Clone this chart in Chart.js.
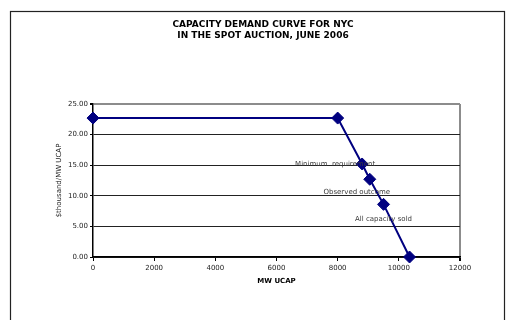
<!DOCTYPE html>
<html>
<head>
<meta charset="utf-8">
<script src="https://cdn.jsdelivr.net/npm/chart.js@4.4.0/dist/chart.umd.min.js"></script>
<style>
  html, body { margin: 0; padding: 0; background: #fff; }
  #wrap { width: 507px; height: 320px; position: relative; }
</style>
</head>
<body>
<div id="wrap"><canvas id="myChart" width="507" height="320"></canvas></div>
<script>
// Demand curve points (MW UCAP vs $thousand/MW UCAP)
const mwUcap = [0, 8000, 8800, 9050, 9500, 10350];
const priceK = [22.7, 22.7, 15.2, 12.7, 8.6, 0];
const pointNotes = ['', '', 'Minimum  requirement', 'Observed outcome', 'All capacity sold', ''];

// Axis ticks
const xTicks = [0, 2000, 4000, 6000, 8000, 10000, 12000];
const yTicks = [0, 5, 10, 15, 20, 25];

const titleLines = ['CAPACITY DEMAND CURVE FOR NYC', 'IN THE SPOT AUCTION, JUNE 2006'];

const FONT = '"DejaVu Sans", Verdana, sans-serif';

// outer frame and the two-line title, centred on the whole frame
const framePlugin = {
  id: 'frame',
  beforeDraw(chart) {
    const ctx = chart.ctx;
    ctx.save();
    ctx.fillStyle = '#fff';
    ctx.fillRect(0, 0, chart.width, chart.height);
    ctx.strokeStyle = '#222';
    ctx.lineWidth = 1.2;
    ctx.strokeRect(10.5, 11.5, 494, 330);
    ctx.fillStyle = '#000';
    ctx.font = 'bold 9px ' + FONT;
    ctx.textAlign = 'center';
    ctx.textBaseline = 'middle';
    titleLines.forEach((t, i) => ctx.fillText(t, 263, 25 + i * 11));
    ctx.restore();
  }
};

// text notes next to the points
const notesPlugin = {
  id: 'notes',
  afterDatasetsDraw(chart) {
    const ctx = chart.ctx;
    const xs = chart.scales.x, ys = chart.scales.y;
    const offsets = { 2: [-27, 0], 3: [-13, 13], 4: [0, 15] };
    ctx.save();
    ctx.font = '7px ' + FONT;
    ctx.fillStyle = '#3a3a3a';
    ctx.textAlign = 'center';
    ctx.textBaseline = 'middle';
    pointNotes.forEach((note, i) => {
      if (!note) return;
      const off = offsets[i] || [0, 0];
      ctx.fillText(note, xs.getPixelForValue(mwUcap[i]) + off[0], ys.getPixelForValue(priceK[i]) + off[1]);
    });
    ctx.restore();
  }
};

const data = {
  datasets: [{
    data: mwUcap.map((x, i) => ({ x: x, y: priceK[i] })),
    showLine: true,
    borderColor: '#000080',
    borderWidth: 2,
    backgroundColor: '#000080',
    pointStyle: 'rectRot',
    pointRadius: 6,
    pointBorderWidth: 1,
    pointBorderColor: '#000080',
    clip: false
  }]
};

const config = {
  type: 'scatter',
  data: data,
  options: {
    responsive: false,
    animation: false,
    layout: { padding: { left: 0, right: 47, top: 104, bottom: 0 } },
    plugins: {
      legend: { display: false },
      tooltip: { enabled: false },
      title: { display: false }
    },
    scales: {
      x: {
        type: 'linear',
        min: 0,
        max: 12000,
        afterBuildTicks(scale) { scale.ticks = xTicks.map(v => ({ value: v })); },
        afterFit(scale) { scale.height = 63; },
        ticks: {
          color: '#222',
          font: { family: FONT, size: 7 },
          padding: 3,
          maxRotation: 0,
          callback: v => String(v)
        },
        grid: {
          color: c => (c.tick && c.tick.value === 12000) ? '#8c8c8c' : 'rgba(0,0,0,0)',
          lineWidth: c => (c.tick && c.tick.value === 12000) ? 2 : 1,
          tickColor: '#000',
          tickLength: 4
        },
        border: { color: '#000', width: 1.5 },
        title: {
          display: true,
          text: 'MW UCAP',
          color: '#000',
          font: { family: FONT, size: 7, weight: 'bold' },
          padding: { top: 0, bottom: 35 }
        }
      },
      y: {
        type: 'linear',
        min: 0,
        max: 25,
        afterBuildTicks(scale) { scale.ticks = yTicks.map(v => ({ value: v })); },
        afterFit(scale) { scale.width = 93; },
        ticks: {
          color: '#222',
          font: { family: FONT, size: 7 },
          padding: 2,
          callback: v => Number(v).toFixed(2)
        },
        grid: {
          color: c => (c.tick && c.tick.value === 25) ? '#8c8c8c' : '#222',
          lineWidth: c => (c.tick && c.tick.value === 25) ? 2 : 1,
          tickColor: '#000',
          tickLength: 3
        },
        border: { color: '#000', width: 1.5 },
        title: {
          display: true,
          text: '$thousand/MW UCAP',
          color: '#222',
          font: { family: FONT, size: 7 },
          padding: { top: 55, bottom: 0 }
        }
      }
    }
  },
  plugins: [framePlugin, notesPlugin]
};

const myChart = new Chart(document.getElementById('myChart'), config);
</script>
</body>
</html>
